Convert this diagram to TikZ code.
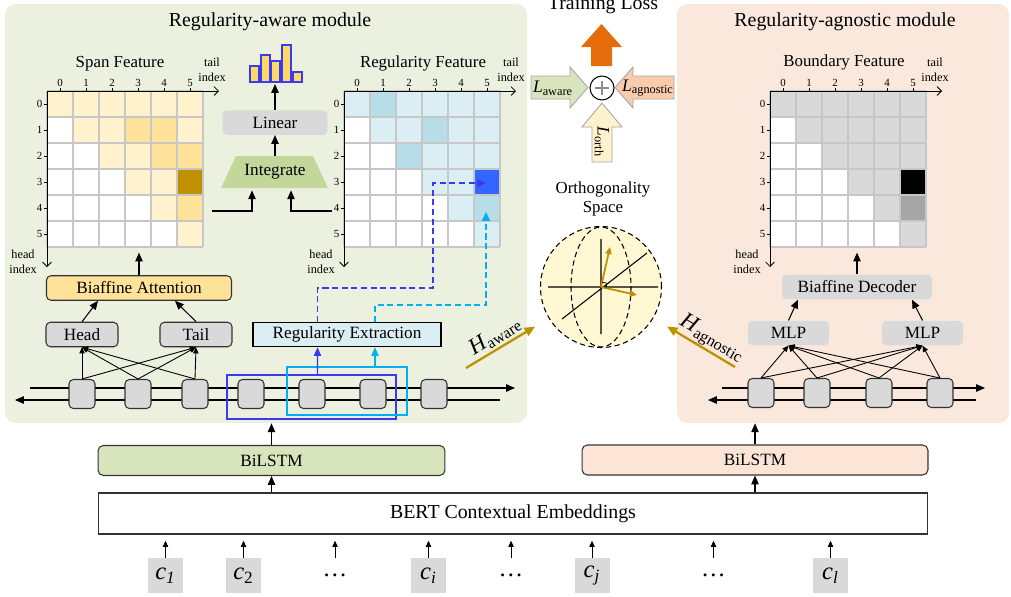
\documentclass[tikz,border=0pt]{standalone}
\usepackage{fontspec}
\setmainfont{Liberation Serif}
\usetikzlibrary{arrows.meta,calc}

\definecolor{fondvert}{HTML}{EBF0DF}
\definecolor{fondorange}{HTML}{FBE8DC}
\definecolor{jauneA}{HTML}{FFF2CC}
\definecolor{jauneB}{HTML}{FFE29A}
\definecolor{jauneC}{HTML}{BF9000}
\definecolor{bleuA}{HTML}{DAEEF3}
\definecolor{bleuB}{HTML}{B7DDE8}
\definecolor{bleuC}{HTML}{3366FF}
\definecolor{bleuW}{HTML}{3A3AF5}
\definecolor{cyanD}{HTML}{00B0F0}
\definecolor{grisA}{HTML}{D9D9D9}
\definecolor{grisB}{HTML}{A6A6A6}
\definecolor{vertA}{HTML}{D8E4BC}
\definecolor{vertB}{HTML}{C4D79B}
\definecolor{peche}{HTML}{FCE4D6}
\definecolor{pecheB}{HTML}{F8CBAD}
\definecolor{orangeF}{HTML}{E46C0A}
\definecolor{dore}{HTML}{BF9000}
\definecolor{sphere}{HTML}{FFF8D2}
\definecolor{barre}{HTML}{FFD966}

% feature grid: x0, y0, colour of upper part, special cells r/c/colour
\newcommand{\grille}[4]{%
  \fill[white] (#1,#2) rectangle ++(156,156);
  \foreach \r in {0,...,5}{
    \foreach \c in {\r,...,5}
      \fill[#3] ({#1+26*\c},{#2+26*\r}) rectangle ++(26,26);
  }
  \foreach \r/\c/\k in {#4}
    \fill[\k] ({#1+26*\c},{#2+26*\r}) rectangle ++(26,26);
  \foreach \i in {0,...,6}{
    \draw[black!22, line width=0.7pt] ({#1+26*\i},#2) -- ++(0,156);
    \draw[black!22, line width=0.7pt] (#1,{#2+26*\i}) -- ++(156,0);
  }
  \draw[axe] (#1,#2) -- ++(172,0);
  \draw[axe] (#1,#2) -- ++(0,176);
  \foreach \i in {0,...,5}{
    \draw[line width=0.4pt] ({#1+13+26*\i},#2) -- ++(0,-3) node[above=0.3pt, chiffre]{\i};
    \draw[line width=0.4pt] (#1,{#2+13+26*\i}) -- ++(-3,0) node[left=0.3pt, chiffre]{\i};
  }
}

\begin{document}
\begin{tikzpicture}[x=0.02cm,y=-0.02cm]
\tikzset{txt/.style={inner sep=0pt, font=\fontsize{9.8}{11}\selectfont},
  boite/.style={txt, rounded corners=2.5pt, minimum height=0.49cm},
  cellule/.style={draw=black!80, fill=grisA, rounded corners=2.5pt, minimum width=0.52cm, minimum height=0.58cm, inner sep=0pt, line width=0.6pt},
  fl/.style={-{Triangle[length=5pt,width=4.2pt]}, line width=0.6pt},
  pfl/.style={-{Triangle[length=3.5pt,width=3pt]}, line width=0.5pt},
  axe/.style={-{Straight Barb[length=2.5pt,width=5pt]}, line width=0.5pt},
  chiffre/.style={inner sep=0.5pt, font=\fontsize{6.2}{7}\selectfont},
  idx/.style={inner sep=0pt, align=center, font=\fontsize{7}{8.5}\selectfont},
  gtitre/.style={inner sep=0pt, font=\fontsize{9.6}{11}\selectfont},
  titre/.style={inner sep=0pt, font=\fontsize{11.3}{13}\selectfont},
  tirets/.style={-{Triangle[length=5pt,width=4.5pt]}, line width=0.9pt, dash pattern=on 3.5pt off 2pt},
  dorfl/.style={-{Triangle[length=6pt,width=5pt]}, line width=1.3pt, dore},
  tok/.style={fill=grisA, minimum size=0.7cm, inner sep=0pt, font=\fontsize{14}{14}\selectfont},
  fleche/.style={draw=black!35, line width=0.5pt}}
\useasboundingbox (0,0) rectangle (1011,596);

% panels
\node[fill=fondvert, rounded corners=6pt, minimum width=10.44cm, minimum height=8.38cm] (pA) at (266,213.5) {};
\node[fill=fondorange, rounded corners=6pt, minimum width=6.64cm, minimum height=8.38cm] (pB) at (843,213.5) {};
\node[titre] (tA) at (270,22) {Regularity-aware module};
\node[titre] (tB) at (845,22) {Regularity-agnostic module};

% feature grids
\grille{47}{91}{jauneA}{1/3/jauneB,1/4/jauneB,2/4/jauneB,2/5/jauneB,3/5/jauneC,4/5/jauneB}
\grille{344}{91}{bleuA}{0/1/bleuB,1/3/bleuB,2/2/bleuB,3/5/bleuC,4/5/bleuB}
\grille{770}{91}{grisA}{3/5/black,4/5/grisB}
\node[minimum size=3.12cm, inner sep=0pt] (spanF) at (125,169) {};
\node[minimum size=3.12cm, inner sep=0pt] (regF) at (422,169) {};
\node[minimum size=3.12cm, inner sep=0pt] (bndF) at (848,169) {};
\node[gtitre] (sT) at (120,64) {Span Feature};
\node[gtitre] (rT) at (423,63) {Regularity Feature};
\node[gtitre] (bT) at (844,62) {Boundary Feature};
\node[idx] (sI) at (212,70) {tail\\index};
\node[idx] (rI) at (511,70) {tail\\index};
\node[idx] (bI) at (935,70) {tail\\index};
\node[idx] (sH) at (23,262) {head\\index};
\node[idx] (rH) at (321,262) {head\\index};
\node[idx] (bH) at (747,262) {head\\index};

% integrate and linear
\foreach \x/\h in {250/66,261/55,271/61,282/45,293/72}
  \filldraw[fill=barre, draw=bleuW, line width=0.6pt] (\x,82) rectangle (\x+9,\h);
\coordinate (bars) at (275,84);
\node[boite, fill=grisA, minimum width=2.1cm] (lin) at (275,122.5) {Linear};
\fill[vertB] (221,188) -- (328,188) -- (313,156) -- (236,156) -- cycle;
\node[txt, minimum width=2.12cm, minimum height=0.64cm] (integ) at (275,172) {Integrate};
\draw[fl] (lin.north) -- (bars);
\draw[fl] (integ.north) -- (lin.south);
\coordinate (sOut) at (212,211);
\coordinate (rOut) at (332,211);
\draw[fl] (sOut) -| ($(integ.south)+(-23,2)$);
\draw[fl] (rOut) -| ($(integ.south)+(16,2)$);

% regularity-aware module
\node[boite, draw=black!80, fill=jauneB, minimum width=3.7cm, line width=0.6pt] (att) at (139,288) {Biaffine Attention};
\node[boite, draw=black!80, fill=grisA, minimum width=1.44cm, line width=0.6pt] (hd) at (82,334.5) {Head};
\node[boite, draw=black!80, fill=grisA, minimum width=1.44cm, line width=0.6pt] (tl) at (196,334.5) {Tail};
\node[txt, draw=black, fill=bleuA, minimum width=3.76cm, minimum height=0.48cm, line width=0.8pt] (rex) at (347,334.5) {Regularity Extraction};
\draw[fl, shorten >=3pt] (att.north) -- (att.north |- spanF.south);
\draw[fl] (hd.north) -- ($(att.south)+(-41,0)$);
\draw[fl] (tl.north) -- ($(att.south)+(36,0)$);

\coordinate (fa0) at (30,388);
\coordinate (fa1) at (515,388);
\coordinate (ba0) at (500,400);
\coordinate (ba1) at (15,400);
\draw[fl] (fa0) -- (fa1);
\draw[fl] (ba0) -- (ba1);
\foreach \i/\x in {1/82,2/138,3/195,4/251,5/312,6/373,7/434}
  \node[cellule] (a\i) at (\x,394) {};
\foreach \i in {1,2,3}{
  \draw[pfl] (a\i.north) -- (hd.south);
  \draw[pfl] (a\i.north) -- (tl.south);
}
\node[draw=bleuW, line width=0.9pt, minimum width=3.38cm, minimum height=0.88cm, inner sep=0pt] (winA) at (311.5,397) {};
\node[draw=cyanD, line width=0.9pt, minimum width=2.4cm, minimum height=0.96cm, inner sep=0pt] (winB) at (347,391) {};
\draw[fl, bleuW] ($(winA.north)+(6,0)$) -- ($(rex.south)+(-29.5,0)$);
\draw[fl, cyanD] ($(winB.north)+(28,0)$) -- ($(rex.south)+(28,0)$);
\coordinate (c35) at (486,183);
\coordinate (c45) at (486,212);
\draw[tirets, bleuW] ($(rex.north)+(-29.5,0)$) |- (433,288) |- (c35);
\draw[tirets, cyanD] ($(rex.north)+(28,0)$) |- (486,305) -- (c45);

% training loss
\node[titre, anchor=base] (loss) at (603,9) {Training Loss};
\fill[orangeF] (591,66) -- (612,66) -- (612,47) -- (622,47) -- (601.5,24) -- (581,47) -- (591,47) -- cycle;
\filldraw[fill=vertA, fleche] (531,76) -- (570,76) -- (570,67) -- (588,87.5) -- (570,108) -- (570,99) -- (531,99) -- cycle;
\filldraw[fill=pecheB, fleche] (674,76) -- (633,76) -- (633,67) -- (615,87.5) -- (633,108) -- (633,99) -- (674,99) -- cycle;
\filldraw[fill=jauneA, fleche] (592,162) -- (592,127) -- (582,127) -- (602,103) -- (622,127) -- (612,127) -- (612,162) -- cycle;
\node[circle, draw, line width=0.6pt, minimum size=0.48cm, inner sep=0pt] (somme) at (602,88) {};
\draw[black!45, line width=0.6pt] ($(somme)+(-7,0)$) -- ($(somme)+(7,0)$) ($(somme)+(0,-7)$) -- ($(somme)+(0,7)$);
\node[inner sep=0pt, font=\fontsize{10}{10}\selectfont] (la) at (553,88) {\textit{L}\textsubscript{aware}};
\node[inner sep=0pt, font=\fontsize{10}{10}\selectfont] (lg) at (648,88) {\textit{L}\textsubscript{agnostic}};
\node[inner sep=0pt, font=\fontsize{10}{10}\selectfont, rotate=-90] (lo) at (602,142) {\textit{L}\textsubscript{orth}};

% orthogonality space
\node[gtitre, align=center, font=\fontsize{9.6}{11.3}\selectfont] (osp) at (603,199) {Orthogonality\\Space};
\node[circle, draw, fill=sphere, line width=0.6pt, dash pattern=on 3pt off 2pt, minimum size=2.42cm, inner sep=0pt] (sph) at (601,287) {};
\draw[line width=0.6pt, dash pattern=on 3pt off 2pt] (sph.center) ellipse [x radius=30, y radius=60];
\draw[line width=0.6pt] (601,239) -- (601,334) (548,287) -- (658,287) (562,319) -- (647,253);
\draw[-{Triangle[length=4pt,width=3.5pt]}, dore, line width=1pt] (sph.center) -- ++(9,-40);
\draw[-{Triangle[length=4pt,width=3.5pt]}, dore, line width=1pt] (sph.center) -- ++(36,8);
\draw[line width=0.4pt] (602.1,282.1) -- (607,283.2) -- (605.9,288.1);
\coordinate (hA) at (466,368);
\coordinate (hB) at (735,367);
\draw[dorfl, shorten >=9pt] (hA) -- (sph);
\draw[dorfl, shorten >=9pt] (hB) -- (sph);
\node[inner sep=0pt, rotate=32] (lA) at (495,336) {\fontsize{13}{13}\selectfont\textit{H}\textsubscript{aware}};
\node[inner sep=0pt, rotate=-30] (lB) at (712,339) {\fontsize{13}{13}\selectfont\textit{H}\textsubscript{agnostic}};

% regularity-agnostic module
\node[boite, fill=grisA, minimum width=3.0cm] (dec) at (857,287) {Biaffine Decoder};
\node[boite, fill=grisA, minimum width=1.62cm] (m1) at (788.5,333) {MLP};
\node[boite, fill=grisA, minimum width=1.62cm] (m2) at (922.5,333) {MLP};
\draw[fl, shorten >=3pt] (dec.north) -- (dec.north |- bndF.south);
\draw[fl] (m1.north) -- ($(dec.south)+(-59,0)$);
\draw[fl] (m2.north) -- ($(dec.south)+(55,0)$);
\coordinate (fb0) at (722,388);
\coordinate (fb1) at (985,388);
\coordinate (bb0) at (976,400);
\coordinate (bb1) at (708,400);
\draw[fl] (fb0) -- (fb1);
\draw[fl] (bb0) -- (bb1);
\foreach \i/\x in {1/761,2/817,3/879,4/940}
  \node[cellule] (b\i) at (\x,393) {};
\foreach \i in {1,...,4}{
  \draw[pfl] (b\i.north) -- (m1.south);
  \draw[pfl] (b\i.north) -- (m2.south);
}

% encoders
\node[txt, draw=black!80, fill=vertA, rounded corners=3pt, minimum width=6.94cm, minimum height=0.6cm, line width=0.6pt] (bl1) at (271.5,460.5) {BiLSTM};
\node[txt, draw=black!80, fill=peche, rounded corners=3pt, minimum width=6.92cm, minimum height=0.6cm, line width=0.6pt] (bl2) at (755,460) {BiLSTM};
\node[txt, draw=black!80, line width=0.6pt, minimum width=16.6cm, minimum height=0.82cm, font=\fontsize{11.3}{13}\selectfont] (bert) at (513,513.5) {BERT Contextual Embeddings};
\draw[fl] (bl1.north) -- (bl1.north |- pA.south);
\draw[fl] (bl2.north) -- (bl2.north |- pB.south);
\draw[fl] (bl1.south |- bert.north) -- (bl1.south);
\draw[fl] (bl2.south |- bert.north) -- (bl2.south);

% input characters
\node[tok] (tk1) at (165.5,575.5) {\textit{c}\textsubscript{\textit{1}}};
\node[tok] (tk2) at (243.5,575.5) {\textit{c}\textsubscript{2}};
\node[tok, fill=none] (dt1) at (335,575.5) {\dots};
\node[tok] (tki) at (428.5,575.5) {\textit{c}\textsubscript{\textit{i}}};
\node[tok, fill=none] (dt2) at (511,575.5) {\dots};
\node[tok] (tkj) at (592,575.5) {\textit{c}\textsubscript{\textit{j}}};
\node[tok, fill=none] (dt3) at (713.5,575.5) {\dots};
\node[tok] (tkl) at (830.5,575.5) {\textit{c}\textsubscript{\textit{l}}};
\foreach \n in {tk1,tk2,dt1,tki,dt2,tkj,dt3,tkl}
  \draw[pfl, shorten >=3.5pt] (\n.north) -- (\n.north |- bert.south);
\end{tikzpicture}
\end{document}
